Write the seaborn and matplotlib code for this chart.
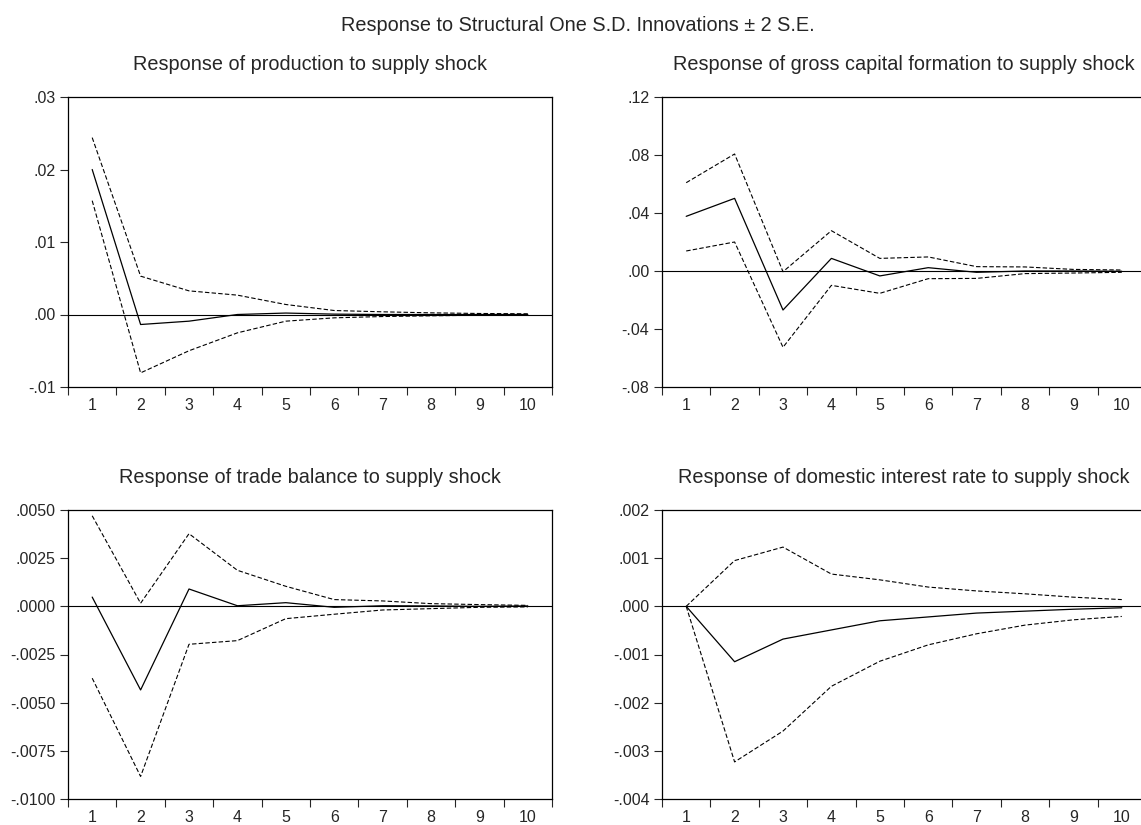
import numpy as np
import pandas as pd
import matplotlib
matplotlib.use('Agg')
import matplotlib.pyplot as plt
import seaborn as sns
from matplotlib.ticker import FuncFormatter, FixedLocator

sns.set_style("ticks")
plt.rcParams['font.family'] = ['Liberation Sans', 'DejaVu Sans']

# Periods after the shock
steps = list(range(1, 11))

# Response of production to supply shock
prod_resp = [0.0200, -0.00138, -0.00092, 0.0, 0.0002, 0.00005, 0.0, 0.0, 0.0, 0.0]
prod_upper = [0.0244, 0.00529, 0.00326, 0.00267, 0.00138, 0.00055, 0.00037, 0.00023, 0.00014, 0.0001]
prod_lower = [0.0157, -0.00805, -0.0050, -0.00253, -0.00092, -0.00046, -0.00028, -0.00018, -0.0001, -0.00005]

# Response of gross capital formation to supply shock
gcf_resp = [0.0377, 0.0501, -0.0269, 0.0087, -0.0034, 0.0023, -0.0009, 0.0, 0.0, -0.0002]
gcf_upper = [0.0609, 0.0807, -0.0005, 0.0278, 0.0087, 0.0097, 0.0030, 0.0028, 0.0011, 0.0007]
gcf_lower = [0.0138, 0.0200, -0.0526, -0.0099, -0.0154, -0.0053, -0.0051, -0.0018, -0.0014, -0.0009]

# Response of trade balance to supply shock
tb_resp = [0.00048, -0.00434, 0.0009, 0.00003, 0.00019, -0.00005, 0.00003, 0.00002, 0.0, 0.00002]
tb_upper = [0.0047, 0.00016, 0.00377, 0.00187, 0.00104, 0.00035, 0.00028, 0.00014, 0.00009, 0.00005]
tb_lower = [-0.00373, -0.00883, -0.00197, -0.00178, -0.00064, -0.00041, -0.00019, -0.00012, -0.00005, -0.00003]

# Response of domestic interest rate to supply shock
ir_resp = [0.0, -0.00115, -0.00068, -0.00049, -0.0003, -0.00022, -0.00014, -0.0001, -0.00006, -0.00003]
ir_upper = [0.0, 0.00095, 0.00123, 0.00067, 0.00055, 0.0004, 0.00032, 0.00026, 0.00019, 0.00014]
ir_lower = [0.0, -0.00323, -0.00259, -0.00166, -0.00114, -0.0008, -0.00057, -0.00039, -0.00028, -0.00021]

W, H = 1141, 825


def box(x0, x1, y_top, y_bot):
    # pixel box -> figure fraction [left, bottom, width, height]
    return [x0 / W, (H - y_bot) / H, (x1 - x0) / W, (y_bot - y_top) / H]


panels = [
    ("Response of production to supply shock", prod_resp, prod_upper, prod_lower,
     [-0.01, 0.0, 0.01, 0.02, 0.03], 2, box(68, 552, 97, 387)),
    ("Response of gross capital formation to supply shock", gcf_resp, gcf_upper, gcf_lower,
     [-0.08, -0.04, 0.0, 0.04, 0.08, 0.12], 2, box(662, 1146, 97, 387)),
    ("Response of trade balance to supply shock", tb_resp, tb_upper, tb_lower,
     [-0.01, -0.0075, -0.005, -0.0025, 0.0, 0.0025, 0.005], 4, box(68, 552, 510, 799)),
    ("Response of domestic interest rate to supply shock", ir_resp, ir_upper, ir_lower,
     [-0.004, -0.003, -0.002, -0.001, 0.0, 0.001, 0.002], 3, box(662, 1146, 510, 799)),
]

fig = plt.figure(figsize=(W / 100, H / 100), dpi=100)
fig.text(578 / W, 1 - 31 / H, "Response to Structural One S.D. Innovations \u00b1 2 S.E.",
         ha='center', va='baseline', fontsize=14.3)


def make_fmt(dec):
    def f(v, pos):
        s = f"{v:.{dec}f}"
        if s.startswith("-0."):
            return "-" + s[2:]
        if s.startswith("0."):
            return s[1:]
        return s
    return f


for title, resp, upper, lower, yticks, dec, pos in panels:
    ax = fig.add_axes(pos)
    ax.axhline(0, color='black', lw=0.8, zorder=1)
    df = pd.DataFrame({'step': steps, 'resp': resp, 'upper': upper, 'lower': lower})
    sns.lineplot(data=df, x='step', y='resp', ax=ax, color='black', lw=0.9)
    sns.lineplot(data=df, x='step', y='upper', ax=ax, color='black', lw=0.8,
                 linestyle=(0, (4, 2)))
    sns.lineplot(data=df, x='step', y='lower', ax=ax, color='black', lw=0.8,
                 linestyle=(0, (4, 2)))
    ax.set_xlim(0.5, 10.5)
    ax.set_ylim(yticks[0], yticks[-1])
    ax.set_yticks(yticks)
    ax.yaxis.set_major_formatter(FuncFormatter(make_fmt(dec)))
    ax.set_xticks(steps)
    ax.xaxis.set_minor_locator(FixedLocator(np.arange(0.5, 11, 1.0)))
    ax.tick_params(axis='x', which='major', length=0, pad=8, labelsize=11.5)
    ax.tick_params(axis='x', which='minor', length=6, width=0.8, direction='out')
    ax.tick_params(axis='y', length=6, width=0.8, labelsize=11.5, pad=3)
    for sp in ax.spines.values():
        sp.set_visible(True)
        sp.set_color('black')
        sp.set_linewidth(0.9)
    ax.set_xlabel('')
    ax.set_ylabel('')
    ax.set_title(title, fontsize=14.3, pad=19.5)

fig.savefig('out.png', dpi=100)
